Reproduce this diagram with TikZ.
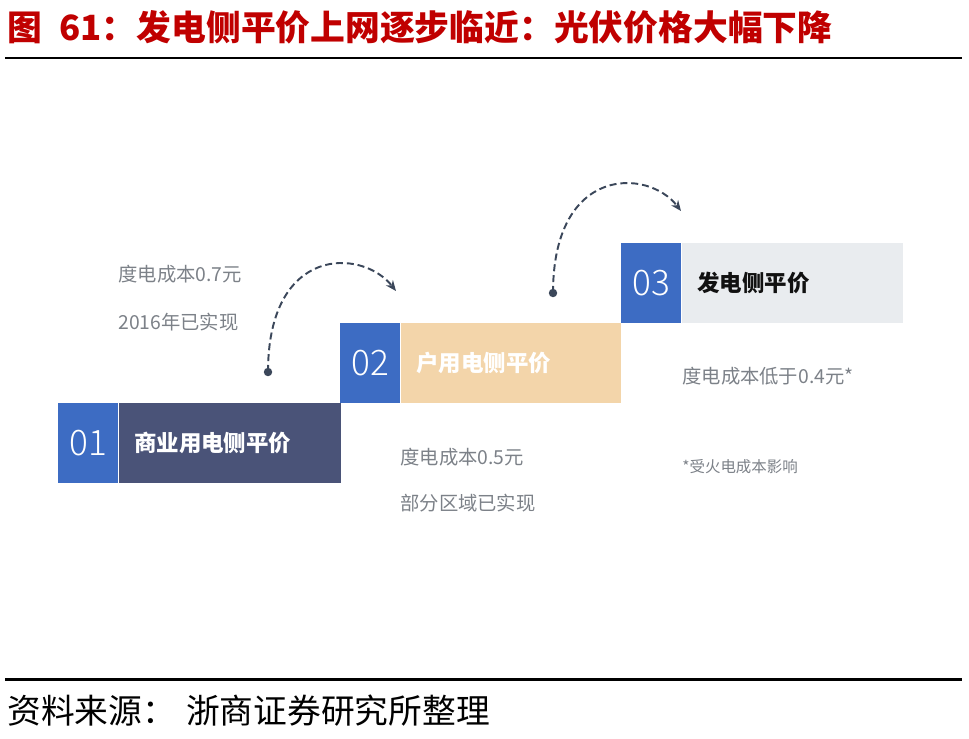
\documentclass[tikz,border=0pt]{standalone}
\usepackage{fontspec}
\setmainfont{Noto Sans CJK SC}
\newfontfamily\numfont{Noto Sans CJK SC Light}
\usepackage{xcolor}
\usetikzlibrary{arrows.meta,positioning}
\definecolor{SPBlue}   {HTML}{3D6CC3}
\definecolor{SPNavy}   {HTML}{4A5378}
\definecolor{SPTan}    {HTML}{F3D5AA}
\definecolor{SPLight}  {HTML}{E9ECEF}
\definecolor{SPGray}   {HTML}{7C8188}
\definecolor{SPRed}    {HTML}{C00000}
\definecolor{SPArrow}  {HTML}{3B475A}
\definecolor{SPBlack}  {HTML}{111111}

\begin{document}
\begin{tikzpicture}[x=0.02cm,y=-0.02cm,
    numbox/.style={fill=SPBlue,minimum width=1.2cm,minimum height=1.6cm,inner sep=0pt,
      text=white,font=\numfont\fontsize{20}{20}\selectfont},
    stepbar/.style={minimum height=1.6cm,inner ysep=0pt,inner xsep=0.3cm,align=left,
      font=\bfseries\fontsize{12.8}{14}\selectfont},
    note/.style={anchor=west,inner sep=0pt,text=SPGray,font=\fontsize{11}{12}\selectfont},
    hop/.style={SPArrow,line width=1.1pt,dash pattern=on 4pt off 2.2pt,-{Stealth[length=6pt,width=5pt]}}]
  \useasboundingbox (0,0) rectangle (969,738);

  % title and rules
  \node[anchor=west,inner sep=0pt,text=SPRed,font=\bfseries\fontsize{19.8}{21}\selectfont] (title)
    at (7,27) {图\hspace{0.5em}61：发电侧平价上网逐步临近：光伏价格大幅下降};
  \draw[line width=1.7pt] (5,58) -- (962,58);
  \draw[line width=1.7pt] (5,679) -- (962,679);
  \node[anchor=west,inner sep=0pt,font=\fontsize{19.2}{21}\selectfont] (source)
    at (7,711) {资料来源：\hspace{0.3em}浙商证券研究所整理};

  % steps
  \node[numbox,anchor=north west] (num1) at (58,403) {01};
  \node[stepbar,fill=SPNavy,text=white,text width=3.84cm,right=0pt of num1] (bar1) {商业用电侧平价};

  \node[numbox,anchor=north west] (num2) at (340,323) {02};
  \node[stepbar,fill=SPTan,text=white,text width=3.8cm,right=0pt of num2] (bar2) {户用电侧平价};

  \node[numbox,anchor=north west] (num3) at (621,243) {03};
  \node[stepbar,fill=SPLight,text=SPBlack,text width=3.82cm,right=0pt of num3] (bar3) {发电侧平价};

  % notes
  \node[note] (cost1) at (118,274) {度电成本0.7元};
  \node[note] (year1) at (118,322) {2016年已实现};
  \node[note] (cost2) at (400,457) {度电成本0.5元};
  \node[note] (year2) at (400,503) {部分区域已实现};
  \node[note] (cost3) at (682,376) {度电成本低于0.4元*};
  \node[note,font=\fontsize{8.8}{10}\selectfont] (foot3) at (682,467) {*受火电成本影响};

  % dashed hops
  \coordinate (from1) at (268,372);
  \coordinate (to1) at (396,291);
  \coordinate (from2) at (553,293);
  \coordinate (to2) at (681,211);
  \fill[SPArrow] (from1) circle (2.4pt);
  \fill[SPArrow] (from2) circle (2.4pt);
  \draw[hop] (from1) .. controls (268,245) and (362,248) .. (to1);
  \draw[hop] (from2) .. controls (553,165) and (648,168) .. (to2);
\end{tikzpicture}
\end{document}
